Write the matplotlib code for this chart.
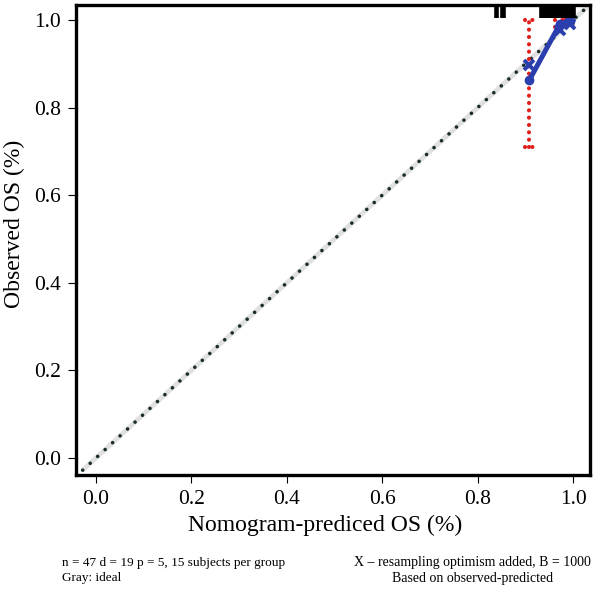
import matplotlib.pyplot as plt

PLOT_OUT = 'out.png'

# calibration groups (mean predicted, observed, CI, bias-corrected)
pred_mean = [0.908, 0.972, 0.993]
observed = [0.862, 0.990, 0.998]
ci_low = [0.710, 0.985, 0.988]
ci_high = [1.000, 1.000, 1.000]
corrected = [0.897, 0.978, 0.990]

# rug of predicted values along the top
rug_pred = [0.838, 0.841, 0.852, 0.855, 0.932, 0.935, 0.938, 0.941, 0.944,
            0.947, 0.951, 0.954, 0.957, 0.960, 0.963, 0.966, 0.969, 0.972,
            0.975, 0.978, 0.981, 0.984, 0.987, 0.990, 0.993, 0.996, 0.999,
            1.002]

ideal = [-0.028, 1.03]
ticks = [0.0, 0.2, 0.4, 0.6, 0.8, 1.0]

plt.rcParams['font.family'] = ['Liberation Serif', 'DejaVu Serif']

fig = plt.figure(figsize=(6, 5.97), dpi=100)
ax = fig.add_axes([0.1267, 0.2044, 0.857, 0.787])

# ideal line: gray band with dark dots
ax.plot(ideal, ideal, color='#e0e0e0', lw=3.4, solid_capstyle='butt', zorder=1)
ax.plot(ideal, ideal, color='#1a2b2b', lw=2.6, linestyle=(0, (0.01, 2.8)),
        dash_capstyle='round', zorder=2)

# error bars (red dotted)
red_dots = dict(color='#e0201c', lw=3.0, linestyle=(0, (0.01, 1.75)),
                dash_capstyle='round', zorder=3)
for x, lo, hi in zip(pred_mean, ci_low, ci_high):
    ax.plot([x, x], [lo, hi], **red_dots)
    ax.plot([x - 0.009, x + 0.009], [lo, lo], **red_dots)
    ax.plot([x - 0.009, x + 0.009], [hi, hi], **red_dots)

# observed line
ax.plot(pred_mean, observed, color='#2a3eae', lw=3.6, zorder=4)
ax.plot(pred_mean, observed, 'o', color='#2a3eae', ms=6, zorder=5)
ax.plot(pred_mean, corrected, 'x', color='#2a3eae', ms=7.5, mew=2.8, zorder=5)

# rug
ax.vlines(rug_pred, 0.972, 1.0, transform=ax.get_xaxis_transform(),
          color='black', lw=2.6, zorder=6)

ax.set_xlim(-0.042, 1.036)
ax.set_ylim(-0.039, 1.034)
ax.set_xticks(ticks)
ax.set_yticks(ticks)
ax.set_xticklabels([f'{t:.1f}' for t in ticks])
ax.set_yticklabels([f'{t:.1f}' for t in ticks])
ax.tick_params(direction='out', length=6, width=0.8, labelsize=15.5, pad=5)
for s in ax.spines.values():
    s.set_linewidth(2.4)

ax.set_xlabel('Nomogram-prediced OS (%)', fontsize=17)
ax.xaxis.set_label_coords(0.485, -0.085)
ax.set_ylabel('Observed OS (%)', fontsize=17)
ax.yaxis.set_label_coords(-0.10, 0.535)

fig.text(0.103, 0.057, 'n = 47 d = 19 p = 5, 15 subjects per group', fontsize=9.5,
         va='center', ha='left')
fig.text(0.103, 0.032, 'Gray: ideal', fontsize=9.5, va='center', ha='left')
fig.text(0.787, 0.058, 'X \u2013 resampling optimism added, B = 1000', fontsize=10,
         va='center', ha='center')
fig.text(0.787, 0.031, 'Based on observed-predicted', fontsize=10,
         va='center', ha='center')

fig.savefig(PLOT_OUT, dpi=100)
